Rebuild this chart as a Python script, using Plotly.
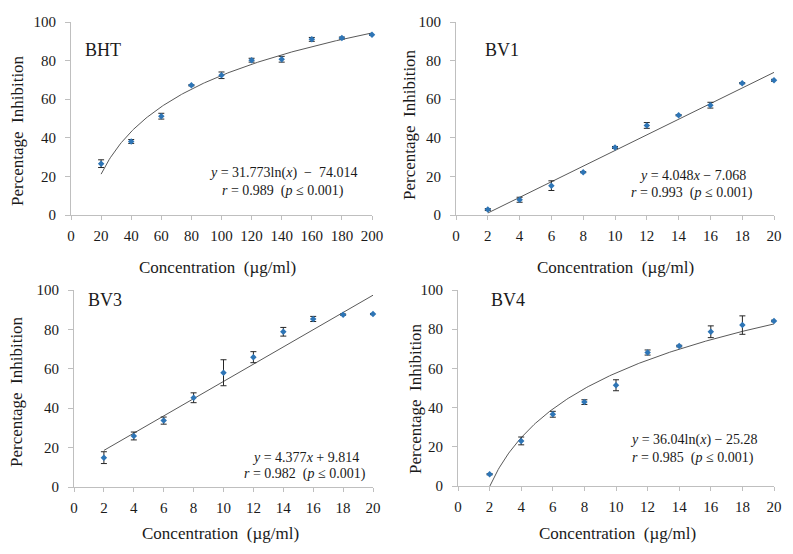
import numpy as np
import plotly.graph_objects as go

# ---------------- data ----------------
bht_x = [20, 40, 60, 80, 100, 120, 140, 160, 180, 200]
bht_y = [26.6, 38.1, 51.2, 67.2, 72.4, 80.2, 80.7, 91.0, 91.7, 93.4]
bht_err = [2.0, 1.0, 1.5, 0.3, 1.7, 1.0, 1.5, 1.0, 0.5, 0.3]
bht_a, bht_b = 31.773, -74.014  # y = a ln(x) + b

bv1_x = [2, 4, 6, 8, 10, 12, 14, 16, 18, 20]
bv1_y = [2.8, 7.9, 15.2, 22.2, 35.0, 46.4, 51.7, 56.9, 68.3, 69.8]
bv1_err = [0.5, 1.3, 2.5, 0.3, 0.5, 1.5, 0.3, 1.5, 0.3, 0.5]
bv1_a, bv1_b = 4.048, -7.068  # y = a x + b

bv3_x = [2, 4, 6, 8, 10, 12, 14, 16, 18, 20]
bv3_y = [14.9, 25.9, 33.7, 45.3, 58.0, 65.9, 78.8, 85.3, 87.5, 87.8]
bv3_err = [3.0, 2.0, 1.8, 2.5, 6.6, 2.8, 2.2, 1.3, 0.3, 0.3]
bv3_a, bv3_b = 4.377, 9.814  # y = a x + b

bv4_x = [2, 4, 6, 8, 10, 12, 14, 16, 18, 20]
bv4_y = [6.0, 23.0, 36.6, 42.8, 51.4, 68.1, 71.4, 78.7, 82.1, 84.2]
bv4_err = [0.3, 2.0, 1.5, 1.2, 2.8, 1.3, 0.4, 3.0, 4.7, 0.4]
bv4_a, bv4_b = 36.04, -25.28  # y = a ln(x) + b

panel_names = ["BHT", "BV1", "BV3", "BV4"]
eq_line1 = [
    "<i>y</i> = 31.773ln(<i>x</i>)  \u2212  74.014",
    "<i>y</i> = 4.048<i>x</i> \u2212 7.068",
    "<i>y</i> = 4.377<i>x</i> + 9.814",
    "<i>y</i> = 36.04ln(<i>x</i>) \u2212 25.28",
]
eq_line2 = [
    "<i>r</i> = 0.989  (<i>p</i> \u2264 0.001)",
    "<i>r</i> = 0.993  (<i>p</i> \u2264 0.001)",
    "<i>r</i> = 0.982  (<i>p</i> \u2264 0.001)",
    "<i>r</i> = 0.985  (<i>p</i> \u2264 0.001)",
]
x_title = "Concentration  (\u00b5g/ml)"
y_title = "Percentage  Inhibition"

# ---------------- styling ----------------
W, H = 793, 554
FONT = "Liberation Serif"
TXT = "#1a1a1a"
MARK = "#2E75B6"
AXC = "#BFBFBF"

def px(x):
    return x / W

def py(y):
    return 1 - y / H

# panel pixel boxes: (x0, x1, ytop, ybottom)
boxes = [(71, 372, 22, 215), (456, 774, 22, 215), (74, 373, 290, 487), (458, 774, 290, 486)]
xmax = [200, 20, 20, 20]
xdt = [20, 2, 2, 2]
xtitle_pos = [(217, 267), (615, 267), (220, 533), (617, 533)]
ytitle_pos = [(17, 131), (410, 125), (16, 392), (415, 399)]

series = [
    (bht_x, bht_y, bht_err, "log", bht_a, bht_b),
    (bv1_x, bv1_y, bv1_err, "lin", bv1_a, bv1_b),
    (bv3_x, bv3_y, bv3_err, "lin", bv3_a, bv3_b),
    (bv4_x, bv4_y, bv4_err, "log", bv4_a, bv4_b),
]

fig = go.Figure()
layout = dict(
    template="none",
    width=W, height=H,
    margin=dict(l=0, r=0, t=0, b=0),
    paper_bgcolor="white", plot_bgcolor="white",
    showlegend=False,
    font=dict(family=FONT, color=TXT, size=14),
)
annotations = []

for i, (xs, ys, es, kind, a, b) in enumerate(series):
    n = "" if i == 0 else str(i + 1)
    xa, ya = "x" + n, "y" + n
    # trendline from the fitted coefficients shown on the chart
    xt = np.linspace(min(xs), max(xs), 200)
    yt = a * np.log(xt) + b if kind == "log" else a * xt + b
    fig.add_trace(go.Scatter(x=xt, y=yt, mode="lines", xaxis=xa, yaxis=ya,
                             line=dict(color="#595959", width=1), hoverinfo="skip",
                             cliponaxis=False))
    fig.add_trace(go.Scatter(x=xs, y=ys, mode="markers", xaxis=xa, yaxis=ya,
                             marker=dict(symbol="diamond", size=5, color=MARK,
                                         line=dict(width=0)),
                             error_y=dict(type="data", array=es, visible=True,
                                          color="#262626", thickness=1, width=3),
                             cliponaxis=False))
    x0, x1, yt0, yb0 = boxes[i]
    layout["xaxis" + n] = dict(
        domain=[px(x0), px(x1)], anchor=ya, range=[0, xmax[i]], automargin=False,
        tickmode="linear", tick0=0, dtick=xdt[i],
        showgrid=False, zeroline=False, showline=True, linecolor=AXC, linewidth=1,
        ticks="outside", ticklen=4, tickcolor=AXC, ticklabelstandoff=3,
        tickfont=dict(family=FONT, size=15, color=TXT),
    )
    layout["yaxis" + n] = dict(
        domain=[py(yb0), py(yt0)], anchor=xa, range=[0, 100], automargin=False,
        tickmode="linear", tick0=0, dtick=20,
        showgrid=False, zeroline=False, showline=True, linecolor=AXC, linewidth=1,
        ticks="outside", ticklen=5, tickcolor=AXC, ticklabelstandoff=6,
        tickfont=dict(family=FONT, size=15, color=TXT),
    )
    # axis titles
    tx, ty = xtitle_pos[i]
    annotations.append(dict(x=px(tx), y=py(ty), xref="paper", yref="paper",
                            text=x_title, showarrow=False, xanchor="center",
                            yanchor="middle", font=dict(family=FONT, size=17, color=TXT)))
    tx, ty = ytitle_pos[i]
    annotations.append(dict(x=px(tx), y=py(ty), xref="paper", yref="paper",
                            text=y_title, showarrow=False, xanchor="center",
                            yanchor="middle", textangle=-90,
                            font=dict(family=FONT, size=17, color=TXT)))

# panel labels and equations
label_pos = [(83, 50), (483, 50), (86, 300), (489, 300)]
eq_pos = [(283, 173, 191), (692, 175, 193), (305, 457, 474), (693, 440, 458)]
for i in range(4):
    lx, ly = label_pos[i]
    annotations.append(dict(x=px(lx), y=py(ly), xref="paper", yref="paper",
                            text=panel_names[i], showarrow=False, xanchor="left",
                            yanchor="middle", font=dict(family=FONT, size=18, color=TXT)))
    ex, e1, e2 = eq_pos[i]
    annotations.append(dict(x=px(ex), y=py(e1), xref="paper", yref="paper",
                            text=eq_line1[i], showarrow=False, xanchor="center",
                            yanchor="middle", font=dict(family=FONT, size=14, color=TXT)))
    annotations.append(dict(x=px(ex), y=py(e2), xref="paper", yref="paper",
                            text=eq_line2[i], showarrow=False, xanchor="center",
                            yanchor="middle", font=dict(family=FONT, size=14, color=TXT)))

layout["annotations"] = annotations
fig.update_layout(**layout)
fig.write_html("out.html", config={"displayModeBar": False},
               post_script="document.body.style.margin='0';document.body.style.overflow='hidden';")
